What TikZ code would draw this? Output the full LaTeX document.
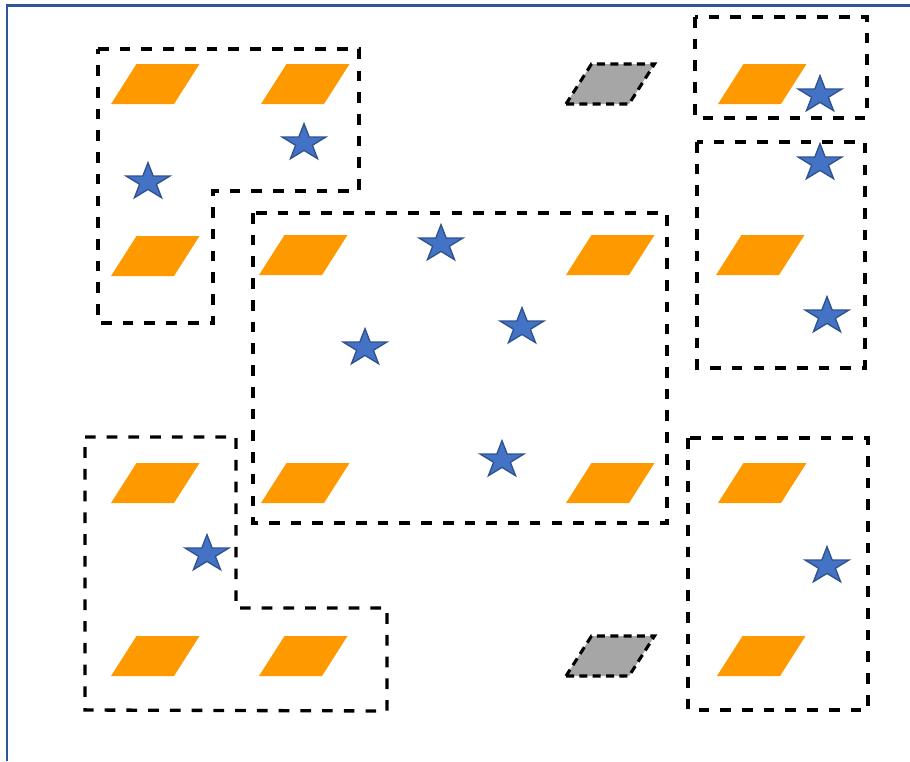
\documentclass[tikz,border=0pt]{standalone}

\definecolor{frameblue}{HTML}{2F5597}
\definecolor{tileorange}{HTML}{FF9900}
\definecolor{tilegray}{HTML}{A6A6A6}
\definecolor{starblue}{HTML}{4472C4}
\definecolor{staredge}{HTML}{2F528F}

\begin{document}
\begin{tikzpicture}[
  x=0.75pt, y=-0.75pt,
  region/.style={draw=black, line width=2.5pt, dash pattern=on 8pt off 8.3pt},
  tile/.style={fill=tileorange, draw=none},
  ghosttile/.style={fill=tilegray, draw=black, line width=2.3pt, dash pattern=on 6pt off 4pt},
  bluestar/.style={fill=starblue, draw=staredge, line width=1pt},
]

% Geometry (pixel units, y pointing down)
\def\Tw{63}        % tile base width
\def\Th{40}        % tile height
\def\Ts{25.5}      % tile slant
\def\Ro{19.35}     % star outer radius (vertical)
\def\Ri{7.4}       % star inner radius
\def\Sx{1.19}      % stars are a bit wider than tall

\useasboundingbox (0,0) rectangle (910,761);

% ── Frame edge (left and top only) ──────────────────────────────────────
\draw[frameblue, line width=2.2pt] (7,761) -- (7,5.5) -- (910,5.5);

% ── Dashed regions ──────────────────────────────────────────────────────
\draw[region] (98,49) -- (359,49) -- (359,191) -- (213,191) -- (213,323) -- (98,323) -- cycle;
\draw[region] (253,213) rectangle (667,523);
\draw[region] (695,17) rectangle (867,118);
\draw[region] (697,142) rectangle (865,368);
\draw[region] (85,437) -- (236,437) -- (236,608) -- (387,608) -- (387,711) -- (85,710) -- cycle;
\draw[region] (688,438) rectangle (868,710);

% ── Orange tiles: bottom-left x / top y ─────────────────────────────────
\foreach \bx/\ty in {
   111/64, 261/64, 111/236,
   259/235, 566/235, 261/463, 566/463,
   718/64, 716/235,
   111/463, 111/636, 259/636,
   718/463, 717/636%
} {
  \fill[tile] (\bx,\ty+\Th) -- ++(\Tw,0) -- ++(\Ts,-\Th) -- ++(-\Tw,0) -- cycle;
}

% ── Gray tiles (dashed outline) ─────────────────────────────────────────
\foreach \bx/\ty in {566/64, 566/636} {
  \filldraw[ghosttile] (\bx,\ty+\Th) -- ++(\Tw,0) -- ++(\Ts,-\Th) -- ++(-\Tw,0) -- cycle;
}

% ── Stars: centre x / centre y ──────────────────────────────────────────
\foreach \cx/\cy in {
  304/143, 148/182,
  820/95, 820/163, 827/316,
  441/244, 365/348, 522/327, 502/460,
  207/554, 827/566%
} {
  \begin{scope}[shift={(\cx,\cy)}, xscale=\Sx]
    \filldraw[bluestar] (-90:\Ro)
      \foreach \a in {-90,-18,54,126,198} { -- (\a+36:\Ri) -- (\a+72:\Ro) } -- cycle;
  \end{scope}
}

\end{tikzpicture}
\end{document}
